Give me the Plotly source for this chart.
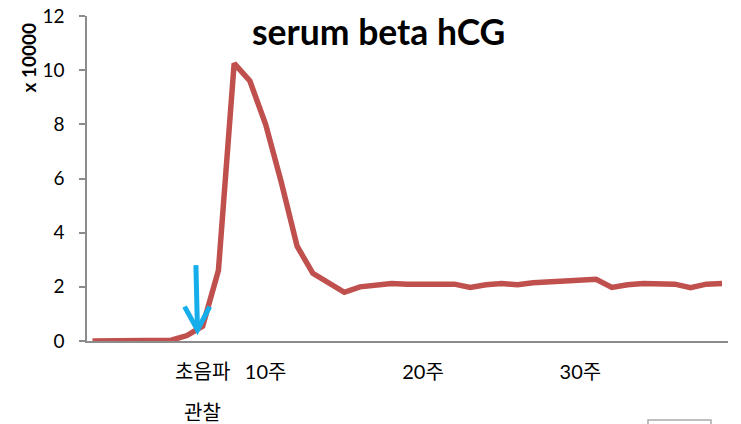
import plotly.graph_objects as go

# ---- data ----
week_index = list(range(41))
hcg_x10000 = [0, 0, 0, 0, 0, 0.03, 0.2, 0.55, 2.6, 10.25,
              9.6, 8.0, 5.85, 3.5, 2.5, 2.15, 1.8, 2.0, 2.08, 2.12,
              2.1, 2.1, 2.1, 2.1, 1.98, 2.08, 2.12, 2.08, 2.15, 2.18,
              2.2, 2.24, 2.28, 1.98, 2.08, 2.12, 2.1, 2.1, 1.97, 2.1, 2.12]
tick_positions = [7, 11, 21, 31]
tick_labels = ["초음파", "10주", "20주", "30주"]
sub_label_pos = 7
sub_label = "관찰"
y_ticks = [0, 2, 4, 6, 8, 10, 12]

# arrow (annotation) geometry in data units
arrow_top = (6.57, 2.8)
arrow_tip = (6.67, 0.41)
arrow_head_left = (5.85, 1.27)
arrow_head_right = (7.45, 1.27)

FONT = "Lato, 'Noto Sans CJK KR', sans-serif"
RED = "#C0504D"
BLUE = "#16AEEA"
AXIS = "#8C8C8C"

fig = go.Figure()
fig.add_trace(go.Scatter(
    x=week_index, y=hcg_x10000, mode="lines",
    line=dict(color=RED, width=5.5), hoverinfo="skip", showlegend=False,
))

fig.update_layout(
    width=741, height=424,
    margin=dict(l=87, r=13, t=16, b=83, autoexpand=False),
    paper_bgcolor="white", plot_bgcolor="white",
    font=dict(family=FONT, size=18, color="#000000"),
    xaxis=dict(
        range=[-0.35, 40.38], showgrid=False, zeroline=False,
        showline=True, linecolor=AXIS, linewidth=1.5,
        tickmode="array", tickvals=tick_positions, ticktext=tick_labels,
        ticks="", ticklabelstandoff=12,
        tickfont=dict(size=20, family=FONT),
    ),
    yaxis=dict(
        range=[0, 12], showgrid=False, zeroline=False,
        showline=True, linecolor=AXIS, linewidth=1.5,
        tickmode="array", tickvals=y_ticks,
        ticks="outside", ticklen=6, tickcolor=AXIS, tickwidth=1.5,
        ticklabelstandoff=11,
        tickfont=dict(size=19, family=FONT),
    ),
)

# title
fig.add_annotation(text="<b>serum beta hCG</b>", xref="paper", yref="paper",
                   x=(378.5 - 87) / 641, y=(341 - 32) / 325, xanchor="center", yanchor="middle",
                   showarrow=False, font=dict(size=35.5, family=FONT, color="#000"))
# y axis unit label
fig.add_annotation(text="<b>x 10000</b>", xref="paper", yref="paper",
                   x=(27.5 - 87) / 641, y=(341 - 57) / 325, xanchor="center", yanchor="middle",
                   textangle=-90, showarrow=False,
                   font=dict(size=19, family=FONT, color="#000"))
# second line of the first x label
fig.add_annotation(text=sub_label, xref="x", yref="paper",
                   x=sub_label_pos, y=(341 - 412) / 325, xanchor="center", yanchor="middle",
                   showarrow=False, font=dict(size=20, family=FONT, color="#000"))

# blue arrow
fig.add_shape(type="line", xref="x", yref="y",
              x0=arrow_top[0], y0=arrow_top[1], x1=arrow_tip[0], y1=arrow_tip[1],
              line=dict(color=BLUE, width=5))
fig.add_shape(type="path", xref="x", yref="y",
              path=f"M {arrow_head_left[0]},{arrow_head_left[1]} L {arrow_tip[0]},{arrow_tip[1]} L {arrow_head_right[0]},{arrow_head_right[1]}",
              line=dict(color=BLUE, width=5))

# partial box at bottom right
fig.add_shape(type="rect", xref="paper", yref="paper",
              x0=(648 - 87) / 641, x1=(711 - 87) / 641,
              y0=(341 - 420) / 325, y1=(341 - 440) / 325,
              line=dict(color="#AAAAAA", width=1.5))

fig.write_html("out.html", config={"displayModeBar": False},
               post_script="document.body.style.margin='0';document.body.style.overflow='hidden';")
